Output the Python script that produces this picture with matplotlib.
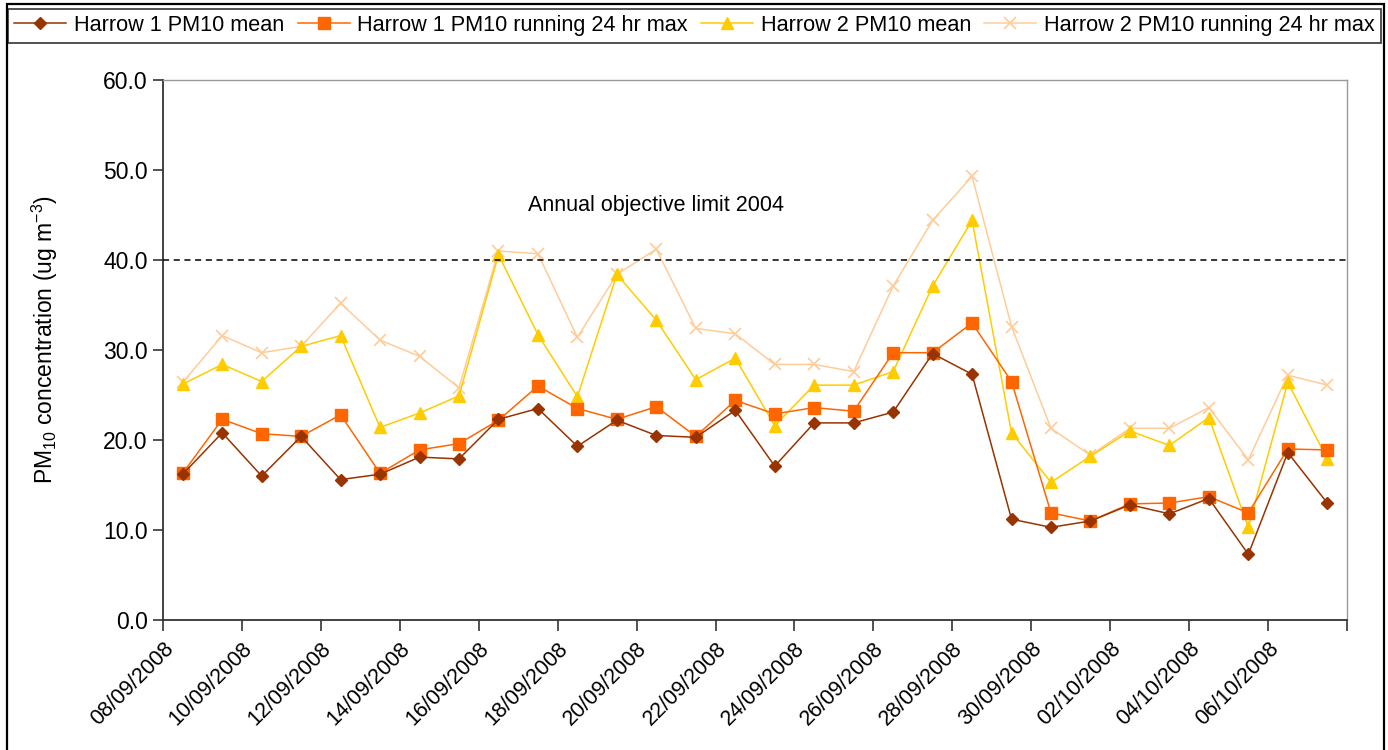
import matplotlib
matplotlib.use("Agg")
import matplotlib.pyplot as plt
from matplotlib.patches import Rectangle
import datetime as dt

plt.rcParams['font.family'] = ['Liberation Sans', 'DejaVu Sans']
plt.rcParams['mathtext.fontset'] = 'custom'
plt.rcParams['mathtext.rm'] = 'Liberation Sans'
plt.rcParams['mathtext.it'] = 'Liberation Sans:italic'

# ---- data ----
start_date = dt.datetime(2008, 9, 8, 12)
n_days = 30
dates = [start_date + dt.timedelta(days=i) for i in range(n_days)]

h1_mean = [16.2, 20.8, 16.0, 20.4, 15.6, 16.2, 18.1, 17.9, 22.3, 23.5,
           19.3, 22.2, 20.5, 20.3, 23.3, 17.1, 21.9, 21.9, 23.1, 29.6,
           27.3, 11.2, 10.3, 11.0, 12.8, 11.8, 13.5, 7.3, 18.6, 13.0]
h1_max = [16.3, 22.3, 20.7, 20.4, 22.8, 16.3, 18.9, 19.6, 22.2, 26.0,
          23.5, 22.3, 23.7, 20.4, 24.4, 22.9, 23.6, 23.2, 29.7, 29.7,
          33.0, 26.5, 11.9, 11.0, 12.9, 13.0, 13.7, 11.9, 19.0, 18.9]
h2_mean = [26.2, 28.4, 26.5, 30.4, 31.6, 21.4, 23.0, 24.9, 40.6, 31.7,
           24.8, 38.4, 33.3, 26.7, 29.1, 21.6, 26.1, 26.1, 27.6, 37.1,
           44.4, 20.8, 15.3, 18.2, 21.0, 19.4, 22.5, 10.3, 26.4, 17.9]
h2_max = [26.4, 31.6, 29.7, 30.4, 35.2, 31.1, 29.3, 25.8, 41.0, 40.7,
          31.4, 38.4, 41.2, 32.4, 31.8, 28.4, 28.4, 27.6, 37.1, 44.4,
          49.3, 32.6, 21.3, 18.3, 21.3, 21.3, 23.6, 17.8, 27.2, 26.1]

series_labels = ["Harrow 1 PM10 mean", "Harrow 1 PM10 running 24 hr max",
                 "Harrow 2 PM10 mean", "Harrow 2 PM10 running 24 hr max"]
objective_limit = 40.0
objective_label = "Annual objective limit 2004"
y_ticks = [0, 10, 20, 30, 40, 50, 60]

# ---- figure ----
fig = plt.figure(figsize=(13.88, 7.5), dpi=100)
ax = fig.add_axes([163/1388, 1-620/750, (1347-163)/1388, (620-80)/750])

h_a, = ax.plot(dates, h1_mean, color='#993300', marker='D', markersize=6.5,
               lw=1.1, label=series_labels[0], zorder=4)
h_b, = ax.plot(dates, h1_max, color='#FF6600', marker='s', markersize=8,
               lw=1.1, label=series_labels[1], zorder=3)
h_c, = ax.plot(dates, h2_mean, color='#FFCC00', marker='^', markersize=9,
               lw=1.1, label=series_labels[2], zorder=2)
h_d, = ax.plot(dates, h2_max, color='#FFCC99', marker='x', markersize=9,
               markeredgewidth=1.2, lw=1.1, label=series_labels[3], zorder=1)

ax.axhline(objective_limit, color='black', lw=1.1, ls=(0, (4, 3)), zorder=5)
ax.text(dt.datetime(2008, 9, 20, 12), 46.0, objective_label, ha='center',
        va='center', fontsize=15.5)

ax.set_xlim(dt.datetime(2008, 9, 8), dt.datetime(2008, 10, 8))
ax.set_ylim(0, 60)
ax.set_yticks(y_ticks)
ax.set_yticklabels([f"{v:.1f}" for v in y_ticks])

xt = [dt.datetime(2008, 9, 8) + dt.timedelta(days=2*i) for i in range(16)]
ax.set_xticks(xt)
ax.set_xticklabels([d.strftime('%d/%m/%Y') for d in xt[:-1]] + [''],
                   rotation=45, ha='right', rotation_mode='anchor')

ax.tick_params(axis='both', direction='out', colors='#333333',
               labelcolor='black', width=1.2)
ax.tick_params(axis='y', length=7, pad=4, labelsize=16.5)
ax.tick_params(axis='x', length=8, pad=5, labelsize=15.5)

for s in ['left', 'bottom']:
    ax.spines[s].set_color('#333333')
    ax.spines[s].set_linewidth(1.3)
for s in ['top', 'right']:
    ax.spines[s].set_color('#999999')
    ax.spines[s].set_linewidth(1.0)

ax.set_ylabel(r'PM$_{10}$ concentration (ug m$^{-3}$)', fontsize=16.5)
ax.yaxis.set_label_coords(-0.087, 0.52)

leg = fig.legend(handles=[h_a, h_b, h_c, h_d], loc='center',
                 bbox_to_anchor=(8/1388, 1-43/750, (1381-8)/1388, 35/750),
                 mode='expand', ncol=4, fontsize=15.6, frameon=True,
                 fancybox=False, edgecolor='black', handlelength=2.4,
                 handletextpad=0.35, columnspacing=0.5, borderaxespad=0,
                 borderpad=0.3)
leg.get_frame().set_linewidth(1.2)

fig.patches.append(Rectangle((7/1388, -0.02), (1384-7)/1388, 1.02-4/750,
                             transform=fig.transFigure, fill=False,
                             edgecolor='black', lw=1.6))

fig.savefig('out.png', dpi=100)
